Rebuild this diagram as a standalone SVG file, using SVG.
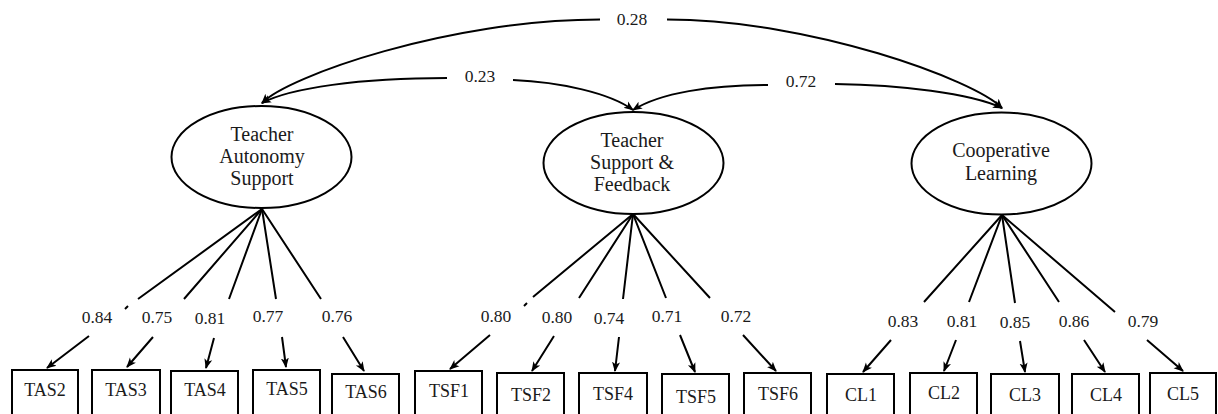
<svg xmlns="http://www.w3.org/2000/svg" width="1218" height="414" viewBox="0 0 1218 414">
<style>
.bg{fill:#fff}
.lat{fill:#fff;stroke:#000;stroke-width:2}
.obs{fill:#fff;stroke:#000;stroke-width:2}
.lt{font-family:"Liberation Serif","Times New Roman",serif;font-size:20px;fill:#1a1a1a;text-anchor:middle}
.ot{font-family:"Liberation Serif","Times New Roman",serif;font-size:18px;fill:#1a1a1a;text-anchor:middle}
.num{font-family:"Liberation Serif","Times New Roman",serif;font-size:17.5px;fill:#1a1a1a;text-anchor:middle}
.c{fill:none;stroke:#000;stroke-width:2}
.ld{marker-end:url(#ah)}
.cov{marker-start:url(#ah);marker-end:url(#ah)}
</style>
<defs>
<marker id="ah" markerUnits="userSpaceOnUse" viewBox="0 0 10 10" markerWidth="10" markerHeight="10" refX="9" refY="5" orient="auto-start-reverse">
<path d="M0,1 L10,5 L0,9 L2.5,5 z" fill="#000"/>
</marker>
</defs>
<rect class="bg" x="0" y="0" width="1218" height="414"/>

<g id="connectors">
<path class="c cov" d="M262,103 C288,76 450,19.5 600,19.5 M667,19.5 C810,19.5 975,80 1002,108"/>
<path class="c cov" d="M262,103 C290,88 360,78 447,78 M513,80 C560,82 610,93 633,110"/>
<path class="c cov" d="M633,110 C660,93 710,85 768,85 M835,84 C900,85 970,93 1002,108"/>
<path class="c ld" d="M262,209 L138,299 M128,306 L125,309 M89,336 L47,368"/>
<path class="c ld" d="M262,209 L184,299 M153,337 L127,367"/>
<path class="c ld" d="M262,209 L229,299 M214,338 L206,368"/>
<path class="c ld" d="M262,209 L276,299 M282,337 L286,367"/>
<path class="c ld" d="M262,209 L321,299 M343,337 L364,371"/>
<path class="c ld" d="M633,214 L533,297 M527,303 L524,306 M490,335 L450,369"/>
<path class="c ld" d="M633,214 L579,298 M554,336 L532,371"/>
<path class="c ld" d="M633,214 L623,299 M619,337 L615,371"/>
<path class="c ld" d="M633,214 L666,298 M680,335 L695,372"/>
<path class="c ld" d="M633,214 L710,298 M743,335 L776,371"/>
<path class="c ld" d="M1002,215 L924,302 M891,340 L863,372"/>
<path class="c ld" d="M1002,215 L969,302 M956,340 L944,371"/>
<path class="c ld" d="M1002,215 L1015,303 M1020,341 L1025,372"/>
<path class="c ld" d="M1002,215 L1059,302 M1084,340 L1105,372"/>
<path class="c ld" d="M1002,215 L1115,312 M1147,340 L1183,371"/>
</g>

<g id="cov-labels">
<text class="num" x="632" y="25">0.28</text>
<text class="num" x="480" y="82">0.23</text>
<text class="num" x="801" y="87">0.72</text>
</g>

<g id="loading-labels">
<text class="num" x="97" y="323">0.84</text>
<text class="num" x="157" y="323">0.75</text>
<text class="num" x="210" y="324">0.81</text>
<text class="num" x="268" y="322">0.77</text>
<text class="num" x="337" y="322">0.76</text>
<text class="num" x="496" y="322">0.80</text>
<text class="num" x="557" y="323">0.80</text>
<text class="num" x="609" y="324">0.74</text>
<text class="num" x="667" y="322">0.71</text>
<text class="num" x="736" y="322">0.72</text>
<text class="num" x="903" y="327">0.83</text>
<text class="num" x="962" y="327">0.81</text>
<text class="num" x="1015" y="328">0.85</text>
<text class="num" x="1074" y="327">0.86</text>
<text class="num" x="1143" y="327">0.79</text>
</g>

<g id="TAS">
<ellipse class="lat" cx="261.5" cy="157" rx="90" ry="51"/>
<text class="lt" x="262" y="141">Teacher</text>
<text class="lt" x="262" y="163">Autonomy</text>
<text class="lt" x="262" y="185">Support</text>
</g>
<g id="TSF">
<ellipse class="lat" cx="633.5" cy="163" rx="90" ry="51"/>
<text class="lt" x="632" y="147">Teacher</text>
<text class="lt" x="632" y="169">Support &amp;</text>
<text class="lt" x="632" y="191">Feedback</text>
</g>
<g id="CL">
<ellipse class="lat" cx="1001.5" cy="163.5" rx="90" ry="51"/>
<text class="lt" x="1001" y="157">Cooperative</text>
<text class="lt" x="1001" y="180">Learning</text>
</g>

<g id="TAS2"><rect class="obs" x="12" y="370" width="66" height="50"/><text class="ot" x="45" y="396">TAS2</text></g>
<g id="TAS3"><rect class="obs" x="92" y="370" width="68" height="50"/><text class="ot" x="126" y="396">TAS3</text></g>
<g id="TAS4"><rect class="obs" x="171" y="371" width="67" height="50"/><text class="ot" x="205" y="396">TAS4</text></g>
<g id="TAS5"><rect class="obs" x="253" y="370" width="67" height="50"/><text class="ot" x="287" y="395">TAS5</text></g>
<g id="TAS6"><rect class="obs" x="332" y="374" width="67" height="50"/><text class="ot" x="366" y="398">TAS6</text></g>
<g id="TSF1"><rect class="obs" x="415" y="371" width="67" height="50"/><text class="ot" x="449" y="397">TSF1</text></g>
<g id="TSF2"><rect class="obs" x="497" y="373" width="67" height="50"/><text class="ot" x="531" y="401">TSF2</text></g>
<g id="TSF4"><rect class="obs" x="579" y="373" width="68" height="50"/><text class="ot" x="613" y="400">TSF4</text></g>
<g id="TSF5"><rect class="obs" x="662" y="374" width="67" height="50"/><text class="ot" x="696" y="403">TSF5</text></g>
<g id="TSF6"><rect class="obs" x="744" y="373" width="67" height="50"/><text class="ot" x="778" y="400">TSF6</text></g>
<g id="CL1"><rect class="obs" x="827" y="374" width="67" height="50"/><text class="ot" x="861" y="401">CL1</text></g>
<g id="CL2"><rect class="obs" x="910" y="373" width="67" height="50"/><text class="ot" x="944" y="399">CL2</text></g>
<g id="CL3"><rect class="obs" x="991" y="374" width="68" height="50"/><text class="ot" x="1025" y="401">CL3</text></g>
<g id="CL4"><rect class="obs" x="1072" y="374" width="67" height="50"/><text class="ot" x="1106" y="401">CL4</text></g>
<g id="CL5"><rect class="obs" x="1150" y="373" width="66" height="50"/><text class="ot" x="1183" y="400">CL5</text></g>
</svg>
